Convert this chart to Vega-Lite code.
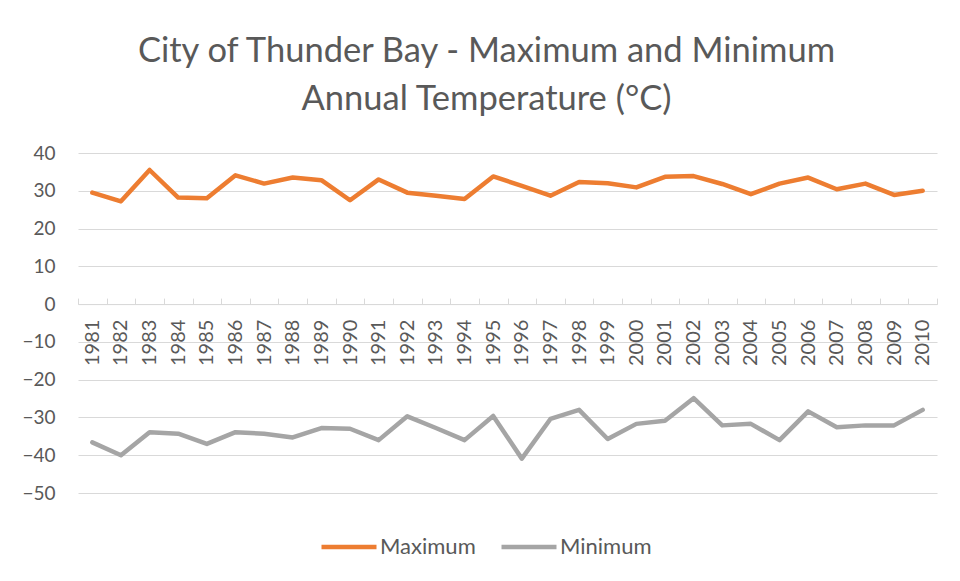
{
  "$schema": "https://vega.github.io/schema/vega-lite/v6.json",
  "width": 859,
  "height": 340,
  "autosize": {"type": "none"},
  "padding": {"left": 78, "top": 153, "right": 23, "bottom": 88},
  "background": "white",
  "config": {"view": {"stroke": null}, "font": "Lato"},
  "title": {
    "text": ["City of Thunder Bay - Maximum and Minimum", "Annual Temperature (°C)"],
    "font": "Lato",
    "fontSize": 34.5,
    "fontWeight": "normal",
    "color": "#595959",
    "anchor": "middle",
    "dx": -21,
    "offset": 27,
    "lineHeight": 48
  },
  "data": {
    "values": [
      {"year": "1981", "series": "Maximum", "value": 29.5},
      {"year": "1982", "series": "Maximum", "value": 27.2},
      {"year": "1983", "series": "Maximum", "value": 35.5},
      {"year": "1984", "series": "Maximum", "value": 28.2},
      {"year": "1985", "series": "Maximum", "value": 28.0},
      {"year": "1986", "series": "Maximum", "value": 34.1},
      {"year": "1987", "series": "Maximum", "value": 31.9},
      {"year": "1988", "series": "Maximum", "value": 33.5},
      {"year": "1989", "series": "Maximum", "value": 32.8},
      {"year": "1990", "series": "Maximum", "value": 27.5},
      {"year": "1991", "series": "Maximum", "value": 33.0},
      {"year": "1992", "series": "Maximum", "value": 29.5},
      {"year": "1993", "series": "Maximum", "value": 28.7},
      {"year": "1994", "series": "Maximum", "value": 27.8},
      {"year": "1995", "series": "Maximum", "value": 33.8},
      {"year": "1996", "series": "Maximum", "value": 31.3},
      {"year": "1997", "series": "Maximum", "value": 28.7},
      {"year": "1998", "series": "Maximum", "value": 32.3},
      {"year": "1999", "series": "Maximum", "value": 32.0},
      {"year": "2000", "series": "Maximum", "value": 30.9},
      {"year": "2001", "series": "Maximum", "value": 33.7},
      {"year": "2002", "series": "Maximum", "value": 33.9},
      {"year": "2003", "series": "Maximum", "value": 31.8},
      {"year": "2004", "series": "Maximum", "value": 29.1},
      {"year": "2005", "series": "Maximum", "value": 31.9},
      {"year": "2006", "series": "Maximum", "value": 33.5},
      {"year": "2007", "series": "Maximum", "value": 30.4},
      {"year": "2008", "series": "Maximum", "value": 31.9},
      {"year": "2009", "series": "Maximum", "value": 28.9},
      {"year": "2010", "series": "Maximum", "value": 30.0},
      {"year": "1981", "series": "Minimum", "value": -36.6},
      {"year": "1982", "series": "Minimum", "value": -40.0},
      {"year": "1983", "series": "Minimum", "value": -33.9},
      {"year": "1984", "series": "Minimum", "value": -34.3},
      {"year": "1985", "series": "Minimum", "value": -37.0},
      {"year": "1986", "series": "Minimum", "value": -33.9},
      {"year": "1987", "series": "Minimum", "value": -34.3},
      {"year": "1988", "series": "Minimum", "value": -35.3},
      {"year": "1989", "series": "Minimum", "value": -32.8},
      {"year": "1990", "series": "Minimum", "value": -33.0},
      {"year": "1991", "series": "Minimum", "value": -36.0},
      {"year": "1992", "series": "Minimum", "value": -29.7},
      {"year": "1993", "series": "Minimum", "value": -32.8},
      {"year": "1994", "series": "Minimum", "value": -36.0},
      {"year": "1995", "series": "Minimum", "value": -29.6},
      {"year": "1996", "series": "Minimum", "value": -40.9},
      {"year": "1997", "series": "Minimum", "value": -30.4},
      {"year": "1998", "series": "Minimum", "value": -28.0},
      {"year": "1999", "series": "Minimum", "value": -35.7},
      {"year": "2000", "series": "Minimum", "value": -31.7},
      {"year": "2001", "series": "Minimum", "value": -30.9},
      {"year": "2002", "series": "Minimum", "value": -24.9},
      {"year": "2003", "series": "Minimum", "value": -32.1},
      {"year": "2004", "series": "Minimum", "value": -31.7},
      {"year": "2005", "series": "Minimum", "value": -36.0},
      {"year": "2006", "series": "Minimum", "value": -28.4},
      {"year": "2007", "series": "Minimum", "value": -32.6},
      {"year": "2008", "series": "Minimum", "value": -32.1},
      {"year": "2009", "series": "Minimum", "value": -32.1},
      {"year": "2010", "series": "Minimum", "value": -28.0}
    ]
  },
  "mark": {"type": "line", "strokeWidth": 4.5, "strokeCap": "round", "strokeJoin": "round"},
  "encoding": {
    "x": {
      "field": "year",
      "type": "ordinal",
      "bandPosition": 0.5,
      "scale": {"type": "band", "paddingInner": 0, "paddingOuter": 0},
      "axis": {
        "title": null,
        "orient": "bottom",
        "offset": -188.9,
        "grid": false,
        "domainColor": "#d9d9d9",
        "domainWidth": 1,
        "ticks": true,
        "tickBand": "extent",
        "tickColor": "#d9d9d9",
        "tickSize": -6,
        "labelAngle": 270,
        "labelPadding": 21,
        "labelFont": "Lato",
        "labelFontSize": 20,
        "labelColor": "#595959"
      }
    },
    "y": {
      "field": "value",
      "type": "quantitative",
      "scale": {"domain": [-50, 40], "nice": false, "zero": false},
      "axis": {
        "title": null,
        "values": [-50, -40, -30, -20, -10, 0, 10, 20, 30, 40],
        "domain": false,
        "ticks": false,
        "grid": true,
        "gridColor": "#d9d9d9",
        "gridWidth": 1,
        "labelPadding": 23,
        "labelFont": "Lato",
        "labelFontSize": 19,
        "labelColor": "#595959"
      }
    },
    "color": {
      "field": "series",
      "type": "nominal",
      "scale": {"domain": ["Maximum", "Minimum"], "range": ["#ED7D31", "#A5A5A5"]},
      "legend": {
        "title": null,
        "orient": "none",
        "direction": "horizontal",
        "legendX": 241,
        "legendY": 364,
        "symbolType": "stroke",
        "symbolSize": 3025,
        "symbolStrokeWidth": 4.5,
        "labelFont": "Lato",
        "labelFontSize": 22,
        "labelColor": "#595959",
        "labelOffset": 1,
        "columnPadding": 16
      }
    }
  }
}
